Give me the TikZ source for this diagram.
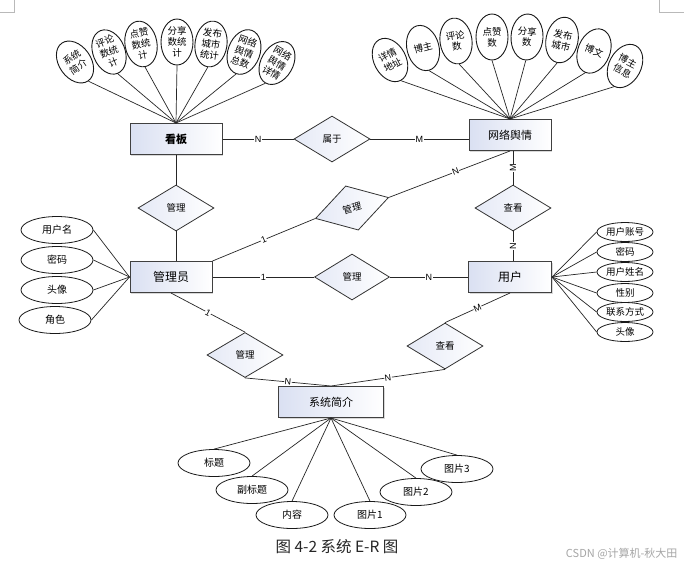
\documentclass[tikz,border=0pt]{standalone}
\usepackage{fontspec}
\setmainfont{Noto Sans CJK SC}
\newfontfamily\latinsans{Liberation Sans}
\usetikzlibrary{shapes.geometric,shadows,calc}
\definecolor{entfill}{RGB}{218,224,242}
\begin{document}
\begin{tikzpicture}[x=1pt,y=-1pt,
  entity/.style={rectangle, draw=black!75, line width=1pt, minimum width=#1, minimum height=31pt,
    inner sep=0pt, left color=entfill, right color=white,
    drop shadow={shadow xshift=1.2pt, shadow yshift=-1.2pt, opacity=0.3},
    font=\fontsize{11}{11}\selectfont},
  relation/.style={diamond, draw=black!80, line width=0.8pt, minimum width=76pt, minimum height=46pt,
    inner sep=0pt, left color=entfill!70, right color=white, font=\fontsize{9.5}{9.5}\selectfont},
  fanattr/.style={ellipse, draw=black!90, line width=0.9pt, fill=white, minimum width=32pt,
    minimum height=46pt, inner sep=-1.5pt, align=center, font=\fontsize{9.5}{11.2}\selectfont},
  wideattr/.style={ellipse, draw=black!90, line width=0.8pt, fill=white, minimum width=72pt,
    minimum height=27pt, inner sep=0pt, font=\fontsize{10}{10}\selectfont},
  smallattr/.style={ellipse, draw=black!90, line width=0.8pt, fill=white, minimum width=56pt,
    minimum height=19pt, inner sep=0pt, font=\fontsize{9.5}{9.5}\selectfont},
  link/.style={draw=black!85, line width=0.7pt},
  card/.style={fill=white, inner sep=0.5pt, font=\latinsans\fontsize{9}{9}\selectfont, sloped},
]
\fill[white] (0,0) rectangle (684,568);
\useasboundingbox (0,0) rectangle (684,568);

% page corner marks
\draw[gray!55, line width=0.8pt] (0,12) -- (14,12) -- (14,0);
\draw[gray!55, line width=0.8pt] (659,0) -- (659,12) -- (684,12);

% ---------- entities ----------
\node[entity=92pt, font=\fontsize{11}{11}\selectfont\bfseries] (kb) at (176,139) {看板};
\node[entity=82pt] (wl) at (510,135) {网络舆情};
\node[entity=82pt, font=\fontsize{12}{12}\selectfont] (gly) at (171,277) {管理员};
\node[entity=83pt, font=\fontsize{12}{12}\selectfont] (yh) at (510,277) {用户};
\node[entity=105pt] (xt) at (331,402) {系统简介};

% ---------- relationships ----------
\node[relation] (su) at (332,139) {属于};
\node[relation] (gl1) at (176,208) {管理};
\node[relation, rotate=16] (gl2) at (352,208) {管理};
\node[relation, minimum width=75pt] (gl3) at (352,277) {管理};
\node[relation, minimum height=45pt] (gl4) at (245,355) {管理};
\node[relation] (ck1) at (513,208) {查看};
\node[relation] (ck2) at (445,346) {查看};

% ---------- attributes of 看板 ----------
\node[fanattr, rotate=35] (ka1) at (75,62) {系统\\简介};
\node[fanattr, rotate=22] (ka2) at (109,52) {评论\\数统\\计};
\node[fanattr, rotate=10] (ka3) at (141,44) {点赞\\数统\\计};
\node[fanattr] (ka4) at (177,42) {分享\\数统\\计};
\node[fanattr, rotate=-8] (ka5) at (211,44) {发布\\城市\\统计};
\node[fanattr, rotate=-20] (ka6) at (244,52) {网络\\舆情\\总数};
\node[fanattr, rotate=-30] (ka7) at (277,63) {网络\\舆情\\详情};
\foreach \a in {ka1,ka2,ka3,ka4,ka5,ka6,ka7}
  \draw[link] (\a.south) -- (kb.north);

% ---------- attributes of 网络舆情 ----------
\node[fanattr, rotate=28] (wa1) at (390,60) {详情\\地址};
\node[fanattr, rotate=15] (wa2) at (423,48) {博主};
\node[fanattr, rotate=8] (wa3) at (456,41) {评论\\数};
\node[fanattr] (wa4) at (492,37) {点赞\\数};
\node[fanattr, rotate=-3] (wa5) at (527,37) {分享\\数};
\node[fanattr, rotate=-12] (wa6) at (562,40) {发布\\城市};
\node[fanattr, rotate=-22] (wa7) at (594,51) {博文};
\node[fanattr, rotate=-28] (wa8) at (625,66) {博主\\信息};
\foreach \a in {wa1,wa2,wa3,wa4,wa5,wa6,wa7,wa8}
  \draw[link] (\a.south) -- (wl.north);

% ---------- attributes of 管理员 ----------
\node[wideattr] (ga1) at (57,230) {用户名};
\node[wideattr] (ga2) at (57,260) {密码};
\node[wideattr] (ga3) at (57,290) {头像};
\node[wideattr] (ga4) at (55,320) {角色};
\foreach \a in {ga1,ga2,ga3,ga4}
  \draw[link] (\a.east) -- (gly.west);

% ---------- attributes of 用户 ----------
\node[smallattr] (ya1) at (625,232) {用户账号};
\node[smallattr] (ya2) at (625,252) {密码};
\node[smallattr] (ya3) at (625,272) {用户姓名};
\node[smallattr] (ya4) at (625,293) {性别};
\node[smallattr] (ya5) at (625,312) {联系方式};
\node[smallattr] (ya6) at (625,332) {头像};
\foreach \a in {ya1,ya2,ya3,ya4,ya5,ya6}
  \draw[link] (\a.west) -- (yh.east);

% ---------- attributes of 系统简介 ----------
\node[wideattr] (xa1) at (214,463) {标题};
\node[wideattr] (xa2) at (252,490) {副标题};
\node[wideattr] (xa3) at (292,515) {内容};
\node[wideattr] (xa4) at (370,515) {图片1};
\node[wideattr] (xa5) at (416,492) {图片2};
\node[wideattr] (xa6) at (457,469) {图片3};
\foreach \a in {xa1,xa2,xa3,xa4,xa5,xa6}
  \draw[link] (xt.south) -- (\a.north);

% ---------- relationship links ----------
\draw[link] (kb.east |- su.west) -- (su.west) node[card, pos=0.5] {N};
\draw[link] (su.east) -- (su.east -| wl.west) node[card, pos=0.5] {M};

\draw[link] (kb.south) -- (gl1.north);
\draw[link] (gl1.south) -- (gl1.south |- gly.north);

\draw[link] (gly.north east) -- (gl2.west) node[card, pos=0.5] {1};
\draw[link] (gl2.east) -- (wl.south) node[card, pos=0.55] {N};

\draw[link] (gly.east) -- (gl3.west) node[card, pos=0.5] {1};
\draw[link] (gl3.east) -- (yh.west) node[card, pos=0.5] {N};

\draw[link] (ck1.north) -- (ck1.north |- wl.south) node[card, pos=0.5] {M};
\draw[link] (ck1.south |- yh.north) -- (ck1.south) node[card, pos=0.5] {N};

\draw[link] (gly.south) -- (gl4.north) node[card, pos=0.5] {1};
\draw[link] (gl4.south) -- (xt.north) node[card, pos=0.5] {N};

\draw[link] (ck2.north) -- (yh.south) node[card, pos=0.5] {M};
\draw[link] (xt.north) -- (ck2.south) node[card, pos=0.5] {N};

% ---------- caption and mark ----------
\node[font=\fontsize{15.5}{15.5}\selectfont, text=black!85] (cap) at (337,547) {图 4-2 系统 E-R 图};
\node[font=\fontsize{11}{11}\selectfont, text=black!35, anchor=east] (wm) at (681,554) {CSDN @计算机-秋大田};
\end{tikzpicture}
\end{document}
